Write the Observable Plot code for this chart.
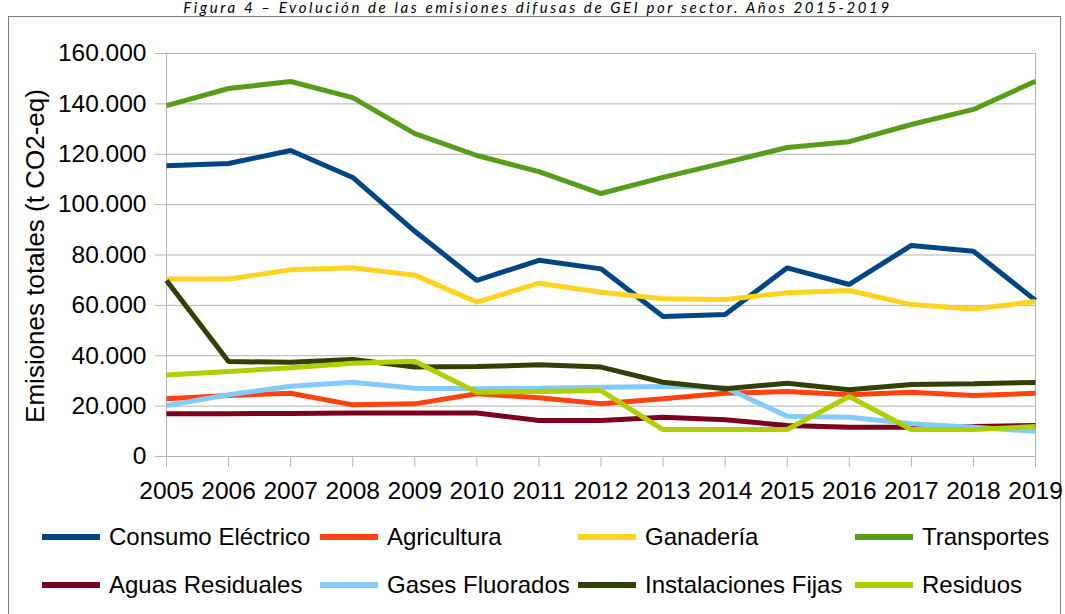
<!DOCTYPE html>
<html>
<head>
<meta charset="utf-8">
<script src="https://cdn.jsdelivr.net/npm/d3@7"></script>
<script src="https://cdn.jsdelivr.net/npm/@observablehq/plot@0.6"></script>
<style>
  html, body { margin: 0; padding: 0; background: #fff; }
  body { width: 1065px; height: 614px; position: relative; overflow: hidden; font-family: "Liberation Sans", Arial, sans-serif; }
  #frame { position: absolute; left: 8px; top: 16px; width: 1053px; height: 640px; border: 1px solid #7a7a7a; box-sizing: border-box; }
  #title { position: absolute; left: 0; width: 1075px; top: 0px; height: 15px; text-align: center; font-family: Lato, sans-serif; font-style: italic; font-size: 15px; line-height: 15px; letter-spacing: 2.6px; color: #000; white-space: nowrap; }
  #chart { position: absolute; left: 0; top: 0; }
  #ylabel { position: absolute; left: 35px; top: 256px; transform: translate(-50%, -50%) rotate(-90deg); font-size: 26px; white-space: nowrap; color: #000; }
  .lg { position: absolute; font-size: 24px; line-height: 26px; color: #000; white-space: nowrap; }
  .sw { position: absolute; width: 58px; height: 6px; }
</style>
</head>
<body>
<div id="frame"></div>
<div id="title">Figura 4 – Evolución de las emisiones difusas de GEI por sector. Años 2015-2019</div>
<div id="chart"></div>
<div id="ylabel">Emisiones totales (t CO2-eq)</div>
<div id="legend"></div>
<script>
const years = [2005, 2006, 2007, 2008, 2009, 2010, 2011, 2012, 2013, 2014, 2015, 2016, 2017, 2018, 2019];
const yTicks = [0, 20000, 40000, 60000, 80000, 100000, 120000, 140000, 160000];

const seriesNames = ["Consumo Eléctrico", "Agricultura", "Ganadería", "Transportes", "Aguas Residuales", "Gases Fluorados", "Instalaciones Fijas", "Residuos"];
const seriesColors = ["#004586", "#ff420e", "#ffd320", "#579d1c", "#7e0021", "#83caff", "#314004", "#aecf00"];

const consumoElectrico   = [115400, 116300, 121500, 110800, 89400, 69900, 77900, 74500, 55600, 56400, 74900, 68300, 83800, 81500, 62000];
const agricultura        = [22900, 24200, 25100, 20500, 20900, 24900, 23300, 20900, 22900, 25100, 25800, 24500, 25500, 24200, 25100];
const ganaderia          = [70500, 70500, 74100, 74900, 72000, 61300, 68800, 65200, 62600, 62300, 65000, 65900, 60300, 58600, 61500];
const transportes        = [139300, 146100, 148900, 142500, 128200, 119500, 113100, 104400, 110800, 116700, 122700, 125000, 131800, 137800, 149000];
const aguasResiduales    = [17000, 17000, 17100, 17300, 17300, 17300, 14300, 14300, 15600, 14600, 12300, 11600, 11600, 11900, 12300];
const gasesFluorados     = [20200, 24500, 27900, 29500, 27100, 26900, 27100, 27500, 27800, 27400, 16000, 15600, 13000, 11600, 10000];
const instalacionesFijas = [69900, 37700, 37400, 38500, 35500, 35700, 36400, 35500, 29500, 26900, 29100, 26500, 28600, 28900, 29400];
const residuos           = [32400, 33700, 35200, 37000, 37800, 25500, 25800, 26200, 10700, 10700, 10700, 23800, 10700, 10700, 11900];

const seriesValues = [consumoElectrico, agricultura, ganaderia, transportes, aguasResiduales, gasesFluorados, instalacionesFijas, residuos];

const data = [];
seriesNames.forEach((name, i) => {
  years.forEach((yr, j) => data.push({serie: name, year: yr, value: seriesValues[i][j]}));
});

const fmt = d => d3.format(",")(d).replace(/,/g, ".");
const grid = "#b3b3b3";

const chart = Plot.plot({
  width: 1065,
  height: 520,
  marginTop: 53,
  marginBottom: 64,
  marginLeft: 166,
  marginRight: 30,
  style: {fontFamily: "'Liberation Sans', Arial, sans-serif", fontSize: "24.5px", background: "transparent", color: "#000"},
  x: {domain: [2005, 2019], label: null},
  y: {domain: [0, 160000], label: null},
  color: {domain: seriesNames, range: seriesColors},
  marks: [
    Plot.ruleY(yTicks, {stroke: grid, strokeWidth: 1}),
    Plot.ruleX([2005, 2019], {y1: 0, y2: 160000, stroke: grid, strokeWidth: 1}),
    Plot.axisY({ticks: yTicks, tickFormat: fmt, tickSize: 11, tickPadding: 9, stroke: grid, fill: "#000", label: null}),
    Plot.axisX({ticks: years, tickFormat: d => String(d), tickSize: 11, tickPadding: 14, stroke: grid, fill: "#000", label: null}),
    Plot.line(data, {x: "year", y: "value", z: "serie", stroke: "serie", strokeWidth: 5, strokeLinecap: "butt", strokeLinejoin: "miter"})
  ]
});
document.getElementById("chart").appendChild(chart);

// Legend
const legend = document.getElementById("legend");
const colX = [42, 320, 578, 855];
const rowY = [537, 585];
seriesNames.forEach((name, i) => {
  const c = i % 4, r = Math.floor(i / 4);
  const sw = document.createElement("div");
  sw.className = "sw";
  sw.style.left = colX[c] + "px";
  sw.style.top = (rowY[r] - 3) + "px";
  sw.style.background = seriesColors[i];
  legend.appendChild(sw);
  const t = document.createElement("div");
  t.className = "lg";
  t.style.left = (colX[c] + 67) + "px";
  t.style.top = (rowY[r] - 13) + "px";
  t.textContent = name;
  legend.appendChild(t);
});
</script>
</body>
</html>
